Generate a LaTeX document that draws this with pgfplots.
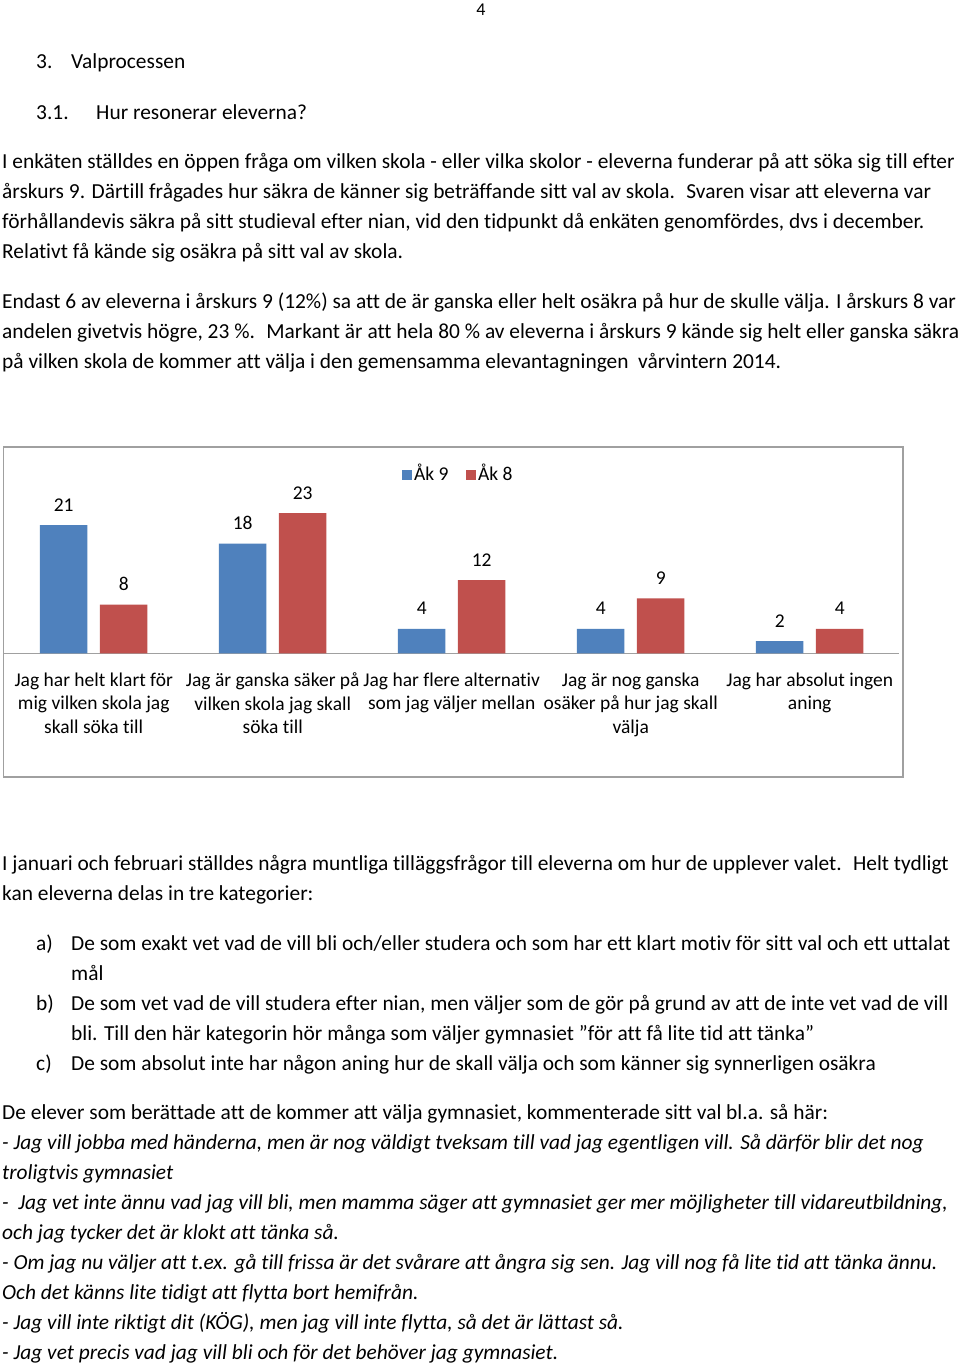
\documentclass[border=0pt]{standalone}
\usepackage{pgfplots}
\pgfplotsset{compat=1.18}
\usepackage{fontspec}
\setmainfont{Carlito}[Ligatures={NoCommon}]
\definecolor{blueA}{HTML}{4F81BD}
\definecolor{redA}{HTML}{C0504D}
\definecolor{frameC}{HTML}{A0A0A0}
\newcommand{\bodyfont}{\fontsize{21.4bp}{30bp}\selectfont}
\newcommand{\chartfont}{\fontsize{19.5bp}{23.8bp}\selectfont}
\begin{document}
\begin{tikzpicture}
\useasboundingbox (0,0) rectangle (960bp,-1366bp);
\fill[white] (0,0) rectangle (960bp,-1366bp);
\tikzset{T/.style={anchor=base west, inner sep=0pt, font=\bodyfont},
         TI/.style={anchor=base west, inner sep=0pt, font=\bodyfont\itshape}}
\node[anchor=base, inner sep=0pt, font=\fontsize{18bp}{22bp}\selectfont] at (481bp,-15.5bp) {4};
\node[T] at (36bp,-68bp) {3.};
\node[T] at (71bp,-68bp) {Valprocessen};
\node[T] at (36bp,-119bp) {3.1.};
\node[T] at (96bp,-119bp) {Hur resonerar eleverna?};
% paragraph 1
\node[T] at (2bp,-168bp) {I enkäten ställdes en öppen fråga om vilken skola - eller vilka skolor - eleverna funderar på att söka sig till efter};
\node[T] at (2bp,-198bp) {årskurs 9. Därtill frågades hur säkra de känner sig beträffande sitt val av skola.~ Svaren visar att eleverna var};
\node[T] at (2bp,-228bp) {förhållandevis säkra på sitt studieval efter nian, vid den tidpunkt då enkäten genomfördes, dvs i december.};
\node[T] at (2bp,-258bp) {Relativt få kände sig osäkra på sitt val av skola.};
% paragraph 2
\node[T] at (2bp,-308bp) {Endast 6 av eleverna i årskurs 9 (12\%) sa att de är ganska eller helt osäkra på hur de skulle välja. I årskurs 8 var};
\node[T] at (2bp,-338bp) {andelen givetvis högre, 23 \%.~ Markant är att hela 80 \% av eleverna i årskurs 9 kände sig helt eller ganska säkra};
\node[T] at (2bp,-368bp) {på vilken skola de kommer att välja i den gemensamma elevantagningen~ vårvintern 2014.};
% chart frame
\draw[frameC, line width=1.2bp] (3.5bp,-447bp) rectangle (903bp,-777bp);
\begin{axis}[
  at={(4.2bp,-653.3bp)}, anchor=south west,
  width=895bp, height=152.5bp, scale only axis,
  xmin=-0.5, xmax=4.5, ymin=0, ymax=25,
  ybar=12.5bp, bar width=47.5bp,
  axis y line=none, axis x line*=bottom,
  x axis line style={draw=frameC, line width=1.2bp, -},
  xtick={0,1,2,3,4}, xtick style={draw=none}, major tick length=0pt,
  xticklabels={{Jag har helt klart för\\mig vilken skola jag\\skall söka till},
               {Jag är ganska säker på\\vilken skola jag skall\\söka till},
               {Jag har flere alternativ\\som jag väljer mellan},
               {Jag är nog ganska\\osäker på hur jag skall\\välja},
               {Jag har absolut ingen\\aning}},
  xticklabel style={font=\chartfont, align=center, anchor=north, inner sep=0pt, yshift=-19bp, text=black},
  /pgf/number format/assume math mode=true,
  nodes near coords={\pgfmathprintnumber[assume math mode=true]{\pgfplotspointmeta}},
  every node near coord/.append style={font=\chartfont, anchor=base, inner sep=0pt, yshift=14bp, text=black},
  clip=false,
  legend columns=2,
  legend style={at={(0.444,1.125)}, anchor=south west, draw=none, fill=none,
    inner sep=0pt, outer sep=0pt, font=\chartfont, nodes={inner sep=0pt, anchor=base},
    /tikz/every odd column/.append style={column sep=2.5bp},
    /tikz/every even column/.append style={column sep=17bp}},
]
\addplot[fill=blueA, draw=none, legend image code/.code={\fill[blueA] (0bp,0bp) rectangle (10bp,10bp);}] coordinates {(0,21) (1,18) (2,4) (3,4) (4,2)};
\addplot[fill=redA, draw=none, legend image code/.code={\fill[redA] (0bp,0bp) rectangle (10bp,10bp);}] coordinates {(0,8) (1,23) (2,12) (3,9) (4,4)};
\legend{Åk 9, Åk 8}
\end{axis}
% paragraph 3
\node[T] at (2bp,-870bp) {I januari och februari ställdes några muntliga tilläggsfrågor till eleverna om hur de upplever valet.~ Helt tydligt};
\node[T] at (2bp,-900bp) {kan eleverna delas in tre kategorier:};
\node[T] at (36bp,-950bp) {a)};
\node[T] at (71bp,-950bp) {De som exakt vet vad de vill bli och/eller studera och som har ett klart motiv för sitt val och ett uttalat};
\node[T] at (71bp,-980bp) {mål};
\node[T] at (36bp,-1010bp) {b)};
\node[T] at (71bp,-1010bp) {De som vet vad de vill studera efter nian, men väljer som de gör på grund av att de inte vet vad de vill};
\node[T] at (71bp,-1040bp) {bli. Till den här kategorin hör många som väljer gymnasiet ”för att få lite tid att tänka”};
\node[T] at (36bp,-1070bp) {c)};
\node[T] at (71bp,-1070bp) {De som absolut inte har någon aning hur de skall välja och som känner sig synnerligen osäkra};
% quotes
\node[T] at (2bp,-1119bp) {De elever som berättade att de kommer att välja gymnasiet, kommenterade sitt val bl.a. så här:};
\node[TI] at (2bp,-1149bp) {- Jag vill jobba med händerna, men är nog väldigt tveksam till vad jag egentligen vill. Så därför blir det nog};
\node[TI] at (2bp,-1179bp) {troligtvis gymnasiet};
\node[TI] at (2bp,-1209bp) {-~ Jag vet inte ännu vad jag vill bli, men mamma säger att gymnasiet ger mer möjligheter till vidareutbildning,};
\node[TI] at (2bp,-1239bp) {och jag tycker det är klokt att tänka så.};
\node[TI] at (2bp,-1269bp) {- Om jag nu väljer att t.ex. gå till frissa är det svårare att ångra sig sen. Jag vill nog få lite tid att tänka ännu.};
\node[TI] at (2bp,-1299bp) {Och det känns lite tidigt att flytta bort hemifrån.};
\node[TI] at (2bp,-1329bp) {- Jag vill inte riktigt dit (KÖG), men jag vill inte flytta, så det är lättast så.};
\node[TI] at (2bp,-1359bp) {- Jag vet precis vad jag vill bli och för det behöver jag gymnasiet.};
\end{tikzpicture}
\end{document}
